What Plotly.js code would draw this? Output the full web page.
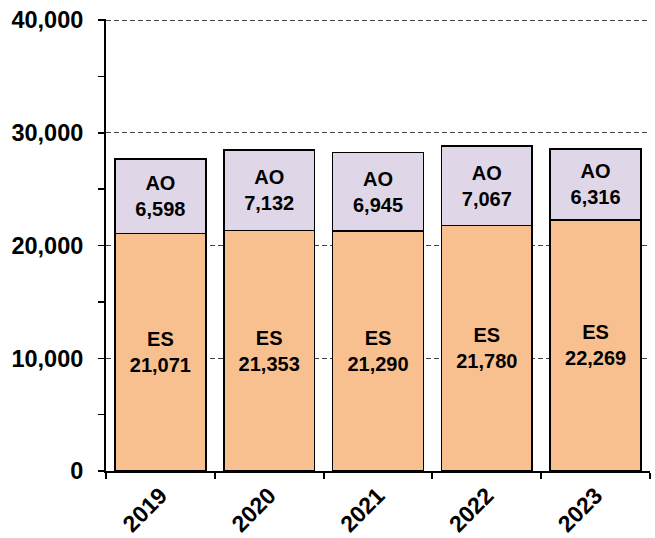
<!DOCTYPE html>
<html>
<head>
<meta charset="utf-8">
<script src="https://cdn.plot.ly/plotly-3.0.1.min.js"></script>
<style>
  html, body { margin: 0; padding: 0; background: #fff; }
  #chart { width: 655px; height: 538px; }
</style>
</head>
<body>
<div id="chart"></div>
<script>
const years = ['2019', '2020', '2021', '2022', '2023'];
const esValues = [21071, 21353, 21290, 21780, 22269];
const aoValues = [6598, 7132, 6945, 7067, 6316];
const yTickVals = [0, 10000, 20000, 30000, 40000];
const yTickText = ['0', '10,000', '20,000', '30,000', '40,000'];

const fontFam = 'Liberation Sans, Arial, sans-serif';
const barText = { family: fontFam, size: 20, color: '#000', weight: 'bold' };

const traces = [
  {
    type: 'bar', name: 'ES', x: years, y: esValues,
    marker: { color: '#F9C08F', line: { color: '#000', width: 1.5 } },
    texttemplate: 'ES<br>%{y:,.0f}', textposition: 'inside', insidetextanchor: 'middle',
    textfont: barText, textangle: 0, hoverinfo: 'skip'
  },
  {
    type: 'bar', name: 'AO', x: years, y: aoValues,
    marker: { color: '#DFD7E7', line: { color: '#000', width: 1.5 } },
    texttemplate: 'AO<br>%{y:,.0f}', textposition: 'inside', insidetextanchor: 'middle',
    textfont: barText, textangle: 0, hoverinfo: 'skip'
  }
];

const layout = {
  width: 655, height: 538,
  margin: { l: 106, r: 5, t: 19, b: 67 },
  paper_bgcolor: '#fff', plot_bgcolor: '#fff',
  barmode: 'stack', bargap: 0.165,
  showlegend: false,
  uniformtext: { mode: false },
  xaxis: {
    type: 'category',
    showline: true, linecolor: '#000', linewidth: 2,
    ticks: 'outside', tickson: 'boundaries', ticklen: 6, tickwidth: 2, tickcolor: '#000',
    tickangle: -45,
    tickfont: { family: fontFam, size: 23, color: '#000', weight: 'bold' },
    showgrid: false, zeroline: false
  },
  yaxis: {
    range: [0, 40100],
    tickvals: yTickVals, ticktext: yTickText,
    showline: true, linecolor: '#000', linewidth: 2,
    ticks: 'outside', ticklen: 6, tickwidth: 1.5, tickcolor: '#000',
    ticklabelstandoff: 10,
    tickfont: { family: fontFam, size: 23.5, color: '#000', weight: 'bold' },
    showgrid: true, gridcolor: '#444', gridwidth: 1.2, griddash: '5px,3px',
    zeroline: false,
    minor: { dtick: 5000, ticks: 'outside', ticklen: 6, tickwidth: 1.5, tickcolor: '#000', showgrid: false }
  }
};

Plotly.newPlot('chart', traces, layout, { displayModeBar: false, staticPlot: true });
</script>
</body>
</html>
